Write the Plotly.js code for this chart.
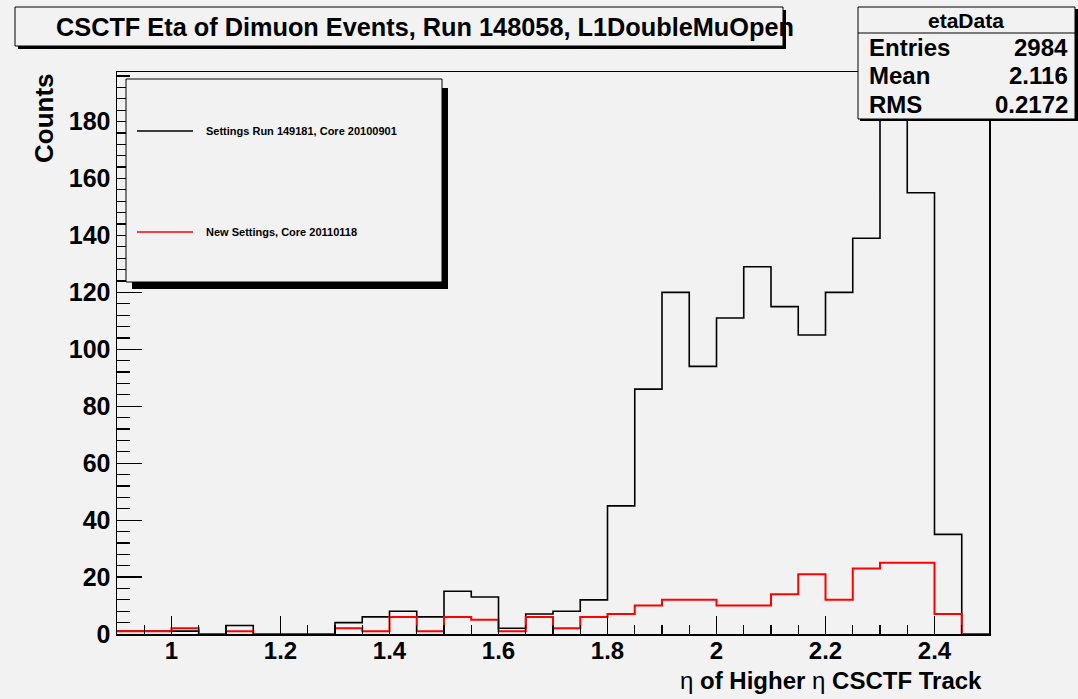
<!DOCTYPE html>
<html><head><meta charset="utf-8">
<script src="https://cdn.plot.ly/plotly-3.0.1.min.js"></script>
<style>html,body{margin:0;padding:0;background:#f2f2f2;}</style>
</head><body><div id="chart" style="width:1078px;height:699px;"></div>
<script>
// ---- data ----
const binEdges = [0.90,0.95,1.00,1.05,1.10,1.15,1.20,1.25,1.30,1.35,1.40,1.45,1.50,1.55,1.60,1.65,1.70,1.75,1.80,1.85,1.90,1.95,2.00,2.05,2.10,2.15,2.20,2.25,2.30,2.35,2.40,2.45,2.50];
const oldCounts = [1,1,1,0,3,0,0,0,4,6,8,6,15,13,2,7,8,12,45,86,120,94,111,129,115,105,120,139,188,155,35,0];
const newCounts = [1,1,2,0,1,0,0,0,2,1,6,1,6,5,1,6,2,6,7,10,12,12,10,10,14,21,12,23,25,25,7,0];
const oldName = "Settings Run 149181, Core 20100901";
const newName = "New Settings, Core 20110118";
const titleText = "CSCTF Eta of Dimuon Events, Run 148058, L1DoubleMuOpen";
const statsName = "etaData";
const statsLabels = ["Entries","Mean","RMS"];
const statsValues = ["2984","2.116","0.2172"];
const xTickVals = [1,1.2,1.4,1.6,1.8,2,2.2,2.4];
const xTickText = ["1","1.2","1.4","1.6","1.8","2","2.2","2.4"];
const yTickVals = [0,20,40,60,80,100,120,140,160,180];

// ---- layout helpers ----
const L=117,R=989,T=72,B=634;
const px = x => (x-L)/(R-L);
const py = y => (B-y)/(B-T);
const BG = '#f2f2f2';
const FONT = 'Liberation Sans, Arial, Helvetica, sans-serif';

function stepY(v){ return v.concat([v[v.length-1]]); }

const traces = [
  {x: binEdges, y: stepY(oldCounts), type:'scatter', mode:'lines', name: oldName,
   line:{shape:'hv', color:'#000000', width:1.6}, showlegend:false, hoverinfo:'skip'},
  {x: binEdges, y: stepY(newCounts), type:'scatter', mode:'lines', name: newName,
   line:{shape:'hv', color:'#ff0000', width:2}, showlegend:false, hoverinfo:'skip'}
];

function rect(x0,y0,x1,y1,fill,lw){
  return {type:'rect', xref:'paper', yref:'paper', layer:'above',
    x0:px(x0), x1:px(x1), y0:py(y0), y1:py(y1),
    fillcolor:fill, line:{color:'#000', width:lw}};
}
function hline(x0,x1,y,color,w){
  return {type:'line', xref:'paper', yref:'paper', layer:'above',
    x0:px(x0), x1:px(x1), y0:py(y), y1:py(y), line:{color:color, width:w}};
}

const shapes = [
  // title box
  rect(18,10,786,49,'#000',0),
  rect(15,7,783,46,BG,1),
  // stats box
  rect(860,9,1078,121,'#000',0),
  rect(858,7,1075,119,BG,1),
  hline(858,1075,33,'#000',1),
  // legend box
  rect(132,88,448,289,'#000',0),
  rect(126,79,442,282,BG,1),
  hline(137,193,131,'#000',1.5),
  hline(137,193,232,'#ff0000',1.5)
];

function ann(text,x,y,xa,size,extra){
  return Object.assign({text:text, xref:'paper', yref:'paper', x:px(x), y:py(y),
    xanchor:xa, yanchor:'middle', showarrow:false,
    font:{family:FONT, size:size, color:'#000', weight:700}}, extra||{});
}

const annotations = [
  ann(titleText, 54, 27, 'left', 25.3),
  ann(statsName, 966, 21, 'center', 21),
  ann(statsLabels[0], 867, 47, 'left', 24),
  ann(statsValues[0], 1070, 47, 'right', 24),
  ann(statsLabels[1], 867, 76, 'left', 24),
  ann(statsValues[1], 1070, 76, 'right', 24),
  ann(statsLabels[2], 867, 104, 'left', 24),
  ann(statsValues[2], 1070, 104, 'right', 24),
  ann(oldName, 204, 131, 'left', 11),
  ann(newName, 204, 232, 'left', 11),
  ann('Counts', 44, 118, 'center', 26, {textangle:-90}),
  ann('<span style="font-weight:400">η</span> of Higher <span style="font-weight:400">η</span> CSCTF Track', 984, 680, 'right', 24)
];

const layout = {
  width:1078, height:699,
  margin:{l:L, r:1078-R, t:T, b:699-B, pad:0},
  paper_bgcolor:BG, plot_bgcolor:BG,
  showlegend:false,
  xaxis:{range:[0.9,2.5], tickvals:xTickVals, ticktext:xTickText,
    ticks:'inside', ticklen:18, tickwidth:1.2, tickcolor:'#000',
    ticklabelstandoff:-5,
    showline:true, linecolor:'#000', linewidth:1.5, mirror:true,
    showgrid:false, zeroline:false,
    tickfont:{family:FONT, size:24, color:'#000', weight:700},
    minor:{dtick:0.05, tick0:0.9, ticks:'inside', ticklen:9, tickwidth:1.2, tickcolor:'#000', showgrid:false}},
  yaxis:{range:[0,197.4], tickvals:yTickVals,
    ticks:'inside', ticklen:25, tickwidth:1.2, tickcolor:'#000',
    showline:true, linecolor:'#000', linewidth:1.5, mirror:true,
    showgrid:false, zeroline:false,
    tickfont:{family:FONT, size:25, color:'#000', weight:700},
    minor:{dtick:4, tick0:0, ticks:'inside', ticklen:13, tickwidth:1.2, tickcolor:'#000', showgrid:false}},
  shapes:shapes,
  annotations:annotations
};

Plotly.newPlot('chart', traces, layout, {staticPlot:true, displayModeBar:false});
</script>
</body></html>
